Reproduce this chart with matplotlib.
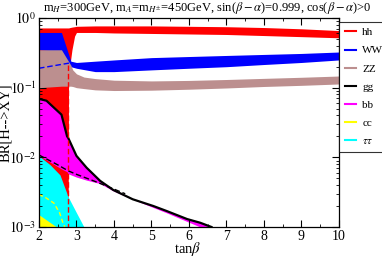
import matplotlib
matplotlib.use("Agg")
import matplotlib.pyplot as plt
from matplotlib.lines import Line2D

plt.rcParams['font.family'] = ['Liberation Serif', 'DejaVu Serif']
plt.rcParams['mathtext.fontset'] = 'stix'

# ---- data ----
hh_x = [2.0, 2.78, 2.79, 2.83, 2.88, 2.95, 3.0, 3.5, 4.0, 5.0, 6.0, 7.0, 8.0, 9.0, 10.0]
hh_up = [0.72, 0.72, 0.72, 0.73, 0.74, 0.75, 0.76, 0.77, 0.77, 0.77, 0.76, 0.75, 0.73, 0.70, 0.66]
hh_lo = [0.0025, 0.0026, 0.20, 0.22, 0.35, 0.55, 0.62, 0.62, 0.61, 0.60, 0.59, 0.58, 0.56, 0.54, 0.52]

ww_x = [2.0, 2.6, 2.85, 3.0, 3.5, 4.0, 5.0, 6.0, 7.0, 8.0, 9.0, 10.0]
ww_up = [0.62, 0.62, 0.24, 0.23, 0.24, 0.25, 0.27, 0.28, 0.29, 0.30, 0.31, 0.325]
ww_lo = [0.35, 0.33, 0.20, 0.19, 0.17, 0.17, 0.18, 0.19, 0.20, 0.215, 0.23, 0.25]
ww_dash_x = [2.0, 2.8]
ww_dash_y = [0.19, 0.225]

zz_x = [2.0, 2.6, 2.85, 2.9, 3.0, 3.2, 3.5, 4.0, 5.0, 6.0, 7.0, 8.0, 9.0, 10.0]
zz_up = [0.35, 0.35, 0.21, 0.18, 0.158, 0.142, 0.135, 0.128, 0.125, 0.127, 0.131, 0.136, 0.141, 0.147]
zz_lo = [0.10, 0.105, 0.105, 0.104, 0.10, 0.097, 0.093, 0.091, 0.092, 0.095, 0.099, 0.104, 0.108, 0.113]

bb_x = [2.0, 2.2, 2.6, 2.75, 2.78, 3.0, 3.27, 3.63, 3.98, 4.5, 5.05, 5.4, 5.95, 6.3, 6.6]
bb_up = [0.069, 0.065, 0.041, 0.020, 0.019, 0.0105, 0.0071, 0.0046, 0.0034, 0.0025, 0.0020, 0.0017, 0.0013, 0.00115, 0.001]
bb_lo = [0.0105, 0.0092, 0.0068, 0.0062, 0.0058, 0.0052, 0.0047, 0.0042, 0.0033, 0.0025, 0.0019, 0.0016, 0.0012, 0.001, 0.0009]

gg_dash_x = [2.0, 2.5, 2.78, 3.0, 3.5, 4.0, 4.3]
gg_dash_y = [0.0108, 0.0078, 0.0064, 0.0057, 0.0045, 0.0035, 0.0030]

tt_x = [2.0, 2.3, 2.56, 2.78, 3.0, 3.2]
tt_up = [0.0105, 0.0078, 0.0056, 0.0027, 0.0016, 0.001]

cc_x = [2.0, 2.47]
cc_up = [0.0015, 0.001]
cc_dash_x = [2.0, 2.15, 2.4, 2.55, 2.65, 2.69]
cc_dash_y = [0.0029, 0.0027, 0.0022, 0.0016, 0.0011, 0.001]

hh_dash_x = [2.78, 2.78]
hh_dash_y = [0.21, 0.001]

labels = ['hh', 'WW', 'ZZ', 'gg', 'bb', 'cc', r'$\tau\tau$']
colors = ['#ff0000', '#0000ff', '#bc8f8f', '#000000', '#ff00ff', '#ffff00', '#00ffff']

# ---- figure ----
fig = plt.figure(figsize=(3.82, 2.58), dpi=100)
ax = fig.add_axes([0.102, 0.1202, 0.7854, 0.81])
ax.set_yscale('log')

floor = 1e-4
ax.fill_between(hh_x, hh_lo, hh_up, color=colors[0], lw=0, zorder=0.5)
ax.fill_between(bb_x, bb_lo, bb_up, color=colors[4], lw=0, zorder=1.0)
ax.fill_between(tt_x, [floor] * len(tt_x), tt_up, color=colors[6], lw=0, zorder=1.1)
ax.fill_between(cc_x, [floor] * len(cc_x), cc_up, color=colors[5], lw=0, zorder=1.2)
ax.fill_between(ww_x, ww_lo, ww_up, color=colors[1], lw=0, zorder=2.5)
ax.fill_between(zz_x, zz_lo, zz_up, color=colors[2], lw=0, zorder=2.6)
ax.plot(ww_dash_x, ww_dash_y, color=colors[1], ls=(0, (4, 2)), lw=1, zorder=3)
ax.plot(cc_dash_x, cc_dash_y, color=colors[5], ls=(0, (3, 2)), lw=1, zorder=3)
ax.plot(bb_x, bb_up, color='black', lw=1.6, zorder=3)
ax.plot(gg_dash_x, gg_dash_y, color='black', ls=(0, (4, 2)), lw=1, zorder=3)
ax.plot(hh_dash_x, hh_dash_y, color=colors[0], ls=(0, (4, 2)), lw=1, zorder=3)

ax.set_xlim(2, 10)
ax.set_ylim(1e-3, 1)
ax.set_xticks(range(2, 11))
ax.set_xticks([2.5 + i for i in range(8)], minor=True)
ax.set_yticks([1e-3, 1e-2, 1e-1, 1])
ax.set_yticklabels([r'$10^{-3}$', r'$10^{-2}$', r'$10^{-1}$', r'$10^{0}$'])
ax.tick_params(which='both', direction='in', top=True, right=True, labelsize=10, pad=2)
ax.tick_params(which='major', length=5, width=0.8)
ax.tick_params(which='minor', length=2.5, width=0.6)
for s in ax.spines.values():
    s.set_linewidth(0.9)
    s.set_zorder(4)

fig.text(188 / 382, 1 - 249 / 258, r'tan$\beta$', fontsize=10.5, ha='center', va='center')
fig.text(6 / 382, 1 - 123 / 258, 'BR[H-->XY]', fontsize=10.5, ha='center', va='center', rotation=90)
fig.text(207 / 382, 1 - 8 / 258,
         r'm$_H$=300GeV, m$_A$=m$_{H^{\pm}}$=450GeV, sin($\beta-\alpha$)=0.999, cos($\beta-\alpha$)>0',
         fontsize=9, ha='center', va='center')

handles = [Line2D([], [], color=c, lw=1.5) for c in colors]
leg = fig.legend(handles, labels, loc='upper left', bbox_to_anchor=(339 / 382, 1 - 22 / 258),
                 borderaxespad=0, frameon=True, fancybox=False, edgecolor='black', fontsize=8,
                 handlelength=1.0, handletextpad=0.6, labelspacing=0.75, borderpad=0.5)
leg.get_frame().set_linewidth(0.8)

fig.savefig('out.png', dpi=100)
